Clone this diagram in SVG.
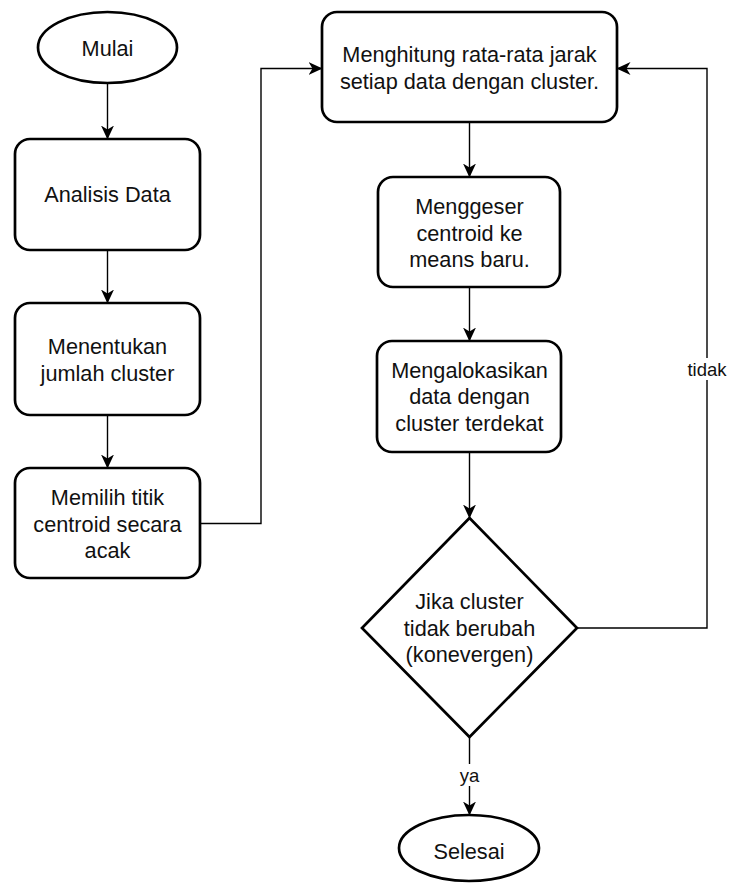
<svg xmlns="http://www.w3.org/2000/svg" width="729" height="884" viewBox="0 0 729 884">
  <style>
    .shape { fill: #ffffff; stroke: #000000; stroke-width: 2.7; }
    .txt { font-family: "Liberation Sans", Arial, sans-serif; font-size: 21.7px; fill: #111111; text-anchor: middle; }
    .lbl { font-family: "Liberation Sans", Arial, sans-serif; font-size: 18.5px; fill: #111111; text-anchor: middle; }
    .conn { fill: none; stroke: #000000; stroke-width: 1.4; marker-end: url(#arrow); }
    .lblbg { fill: #ffffff; stroke: none; }
  </style>
  <defs>
    <marker id="arrow" markerUnits="userSpaceOnUse" viewBox="0 0 14 14" refX="13.5" refY="7" markerWidth="14" markerHeight="14" orient="auto">
      <path d="M0,0.5 L14,7 L0,13.5 L4,7 Z" fill="#000000"/>
    </marker>
  </defs>
  <rect width="729" height="884" fill="#ffffff"/>

  <g id="connectors">
    <path class="conn" d="M107.5,83 V139"/>
    <path class="conn" d="M107.5,250 V303"/>
    <path class="conn" d="M107.5,415 V468"/>
    <path class="conn" d="M200,523.5 H261 V68.5 H322"/>
    <path class="conn" d="M469.5,122 V177"/>
    <path class="conn" d="M469.5,287 V341"/>
    <path class="conn" d="M469.5,452 V518"/>
    <path class="conn" d="M469.5,737 V815"/>
    <path class="conn" d="M577,628 H707 V68.5 H617"/>
    <g id="label-ya">
      <rect class="lblbg" x="457" y="764" width="25" height="22"/>
      <text class="lbl" x="469.5" y="782">ya</text>
    </g>
    <g id="label-tidak">
      <rect class="lblbg" x="686" y="358" width="42" height="22"/>
      <text class="lbl" x="707" y="376">tidak</text>
    </g>
  </g>

  <g id="mulai">
    <ellipse class="shape" cx="107.5" cy="47.5" rx="69.5" ry="35.5"/>
    <text class="txt" x="107.5" y="55.5">Mulai</text>
  </g>

  <g id="analisis-data">
    <rect class="shape" x="15" y="139" width="185" height="111" rx="15" ry="15"/>
    <text class="txt" x="107.5" y="202">Analisis Data</text>
  </g>

  <g id="menentukan">
    <rect class="shape" x="15" y="303" width="185" height="112" rx="15" ry="15"/>
    <text class="txt" x="107.5" y="354">Menentukan</text>
    <text class="txt" x="107.5" y="381">jumlah cluster</text>
  </g>

  <g id="memilih">
    <rect class="shape" x="15" y="468" width="185" height="110" rx="15" ry="15"/>
    <text class="txt" x="107.5" y="505">Memilih titik</text>
    <text class="txt" x="107.5" y="531.5">centroid secara</text>
    <text class="txt" x="107.5" y="558">acak</text>
  </g>

  <g id="menghitung">
    <rect class="shape" x="322" y="12" width="295" height="110" rx="15" ry="15"/>
    <text class="txt" x="469.5" y="62">Menghitung rata-rata jarak</text>
    <text class="txt" x="469.5" y="89">setiap data dengan cluster.</text>
  </g>

  <g id="menggeser">
    <rect class="shape" x="378" y="177" width="182" height="110" rx="15" ry="15"/>
    <text class="txt" x="469.5" y="214">Menggeser</text>
    <text class="txt" x="469.5" y="240.5">centroid ke</text>
    <text class="txt" x="469.5" y="267">means baru.</text>
  </g>

  <g id="mengalokasikan">
    <rect class="shape" x="377" y="341" width="184" height="111" rx="15" ry="15"/>
    <text class="txt" x="469.5" y="377.5">Mengalokasikan</text>
    <text class="txt" x="469.5" y="404">data dengan</text>
    <text class="txt" x="469.5" y="430.5">cluster terdekat</text>
  </g>

  <g id="keputusan">
    <polygon class="shape" points="469.5,518 577,628 469.5,737 362,628"/>
    <text class="txt" x="469.5" y="609">Jika cluster</text>
    <text class="txt" x="469.5" y="635.5">tidak berubah</text>
    <text class="txt" x="469.5" y="662">(konevergen)</text>
  </g>

  <g id="selesai">
    <ellipse class="shape" cx="469" cy="848" rx="70" ry="33"/>
    <text class="txt" x="469" y="859">Selesai</text>
  </g>
</svg>
